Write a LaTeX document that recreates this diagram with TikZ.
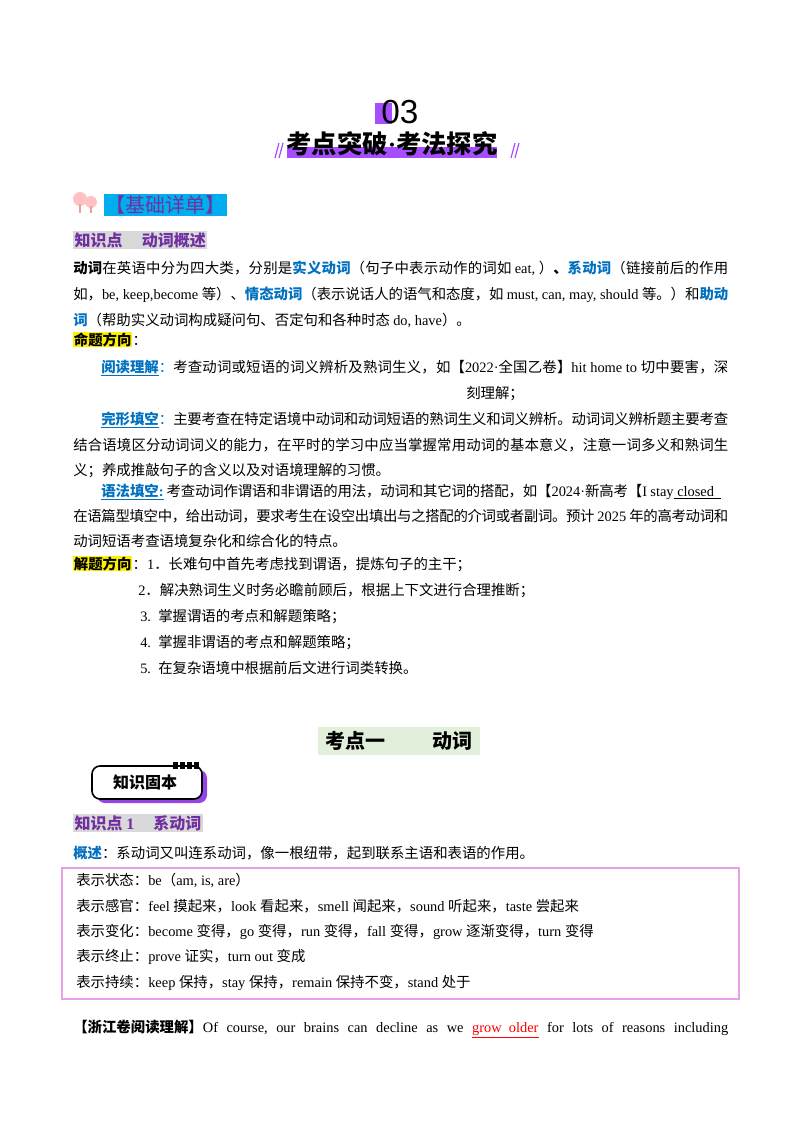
\documentclass[tikz,border=0pt]{standalone}
\usepackage{fontspec}
\setmainfont{Noto Sans CJK SC}
\newfontfamily\latin{Liberation Serif}
\newfontfamily\lsans{Liberation Sans}
\XeTeXinterchartokenstate=1
\newXeTeXintercharclass\Cc
\newcount\cc
\cc="2E80 \loop \XeTeXcharclass\cc=\Cc \advance\cc 1 \ifnum\cc<"A000 \repeat
\cc="FF00 \loop \XeTeXcharclass\cc=\Cc \advance\cc 1 \ifnum\cc<"FFF0 \repeat
\XeTeXinterchartoks 0 \Cc={\rmfamily}
\XeTeXinterchartoks 4095 \Cc={\rmfamily}
\XeTeXinterchartoks \Cc 0={\latin}
\XeTeXinterchartoks 4095 0={\latin}
\XeTeXinterchartoks \Cc \Cc={\hskip0pt plus 3pt minus 0.6pt}
\definecolor{blueL}{HTML}{0070C0}
\definecolor{purH}{HTML}{7030A0}
\definecolor{grayBG}{HTML}{D9D9D9}
\definecolor{pinkBox}{HTML}{E8A0E8}
\definecolor{greenBG}{HTML}{E2EFDA}
\definecolor{barP}{HTML}{A64DFF}
\newcommand\fs{\fontsize{10.8}{13}\selectfont}
\newcommand\J[2]{\hbox to #1{#2}}
\newcommand\bl[1]{{\bfseries\color{blueL}#1}}
\newcommand\ubl[1]{{\bfseries\color{blueL}\underline{#1}}}
\tikzset{T/.style={anchor=base west,inner sep=0pt,font=\fs}}
\begin{document}
\begin{tikzpicture}[x=0.75pt,y=-0.75pt]
\useasboundingbox (0,0) rectangle (800,1132);
% header
\fill[barP] (375,103) rectangle (392,124);
\node[inner sep=0] (n03) at (400,112) {\XeTeXinterchartokenstate=0 \lsans\fontsize{25}{25}\selectfont 03};
\fill[barP] (287,147) rectangle (497,158);
\node[inner sep=0,font=\bfseries\fontsize{19}{20}\selectfont] (ttl) at (392,144) {考点突破·考法探究};
\draw[barP,line width=0.9pt] (275,158)--(279,143) (279,158)--(283,143) (511,158)--(515,143) (515,158)--(519,143);
% tree icon
\fill[pink!80!red!60] (80,199) circle (7) (91,202) circle (6);
\draw[pink!60!brown,line width=0.8pt] (80,204)--(80,213) (91,206)--(91,213);
\node[inner sep=1pt,fill=cyan,text=purH,font=\fontsize{15}{16}\selectfont,anchor=west] (jc) at (104,205) {【基础详单】};
% section
\node[T,fill=grayBG,inner sep=1pt,text=purH,font=\bfseries\fontsize{12}{13}\selectfont] (k0) at (73,246) {知识点\hspace{1.2em}动词概述};
\node[T] (l1) at (73,273) {\J{491.25pt}{{\bfseries 动词}在英语中分为四大类，分别是\bl{实义动词}（句子中表示动作的词如 eat, ）{\bfseries 、}\bl{系动词}（链接前后的作用}};
\node[T] (l2) at (73,299) {\J{491.25pt}{如，be, keep,become 等）、\bl{情态动词}（表示说话人的语气和态度，如 must, can, may, should 等。）和\bl{助动}}};
\node[T] (l3) at (73,325) {\bl{词}（帮助实义动词构成疑问句、否定句和各种时态 do, have）。};
\node[T,fill=yellow,inner sep=0.5pt,font=\fs\bfseries] (mt) at (73,345) {命题方向};
\node[T] (mtc) at (mt.base east) {：};
\node[T] (r1) at (101,372) {\J{470.25pt}{\ubl{阅读理解}{\color{blueL}：}考查动词或短语的词义辨析及熟词生义，如【2022·全国乙卷】hit home to 切中要害，深}};
\node[T] (r2) at (466,398) {刻理解；};
\node[T] (w1) at (101,424) {\J{470.25pt}{\ubl{完形填空}{\color{blueL}：}主要考查在特定语境中动词和动词短语的熟词生义和词义辨析。动词词义辨析题主要考查}};
\node[T] (w2) at (73,450) {\J{491.25pt}{结合语境区分动词词义的能力，在平时的学习中应当掌握常用动词的基本意义，注意一词多义和熟词生}};
\node[T] (w3) at (73,475) {义；养成推敲句子的含义以及对语境理解的习惯。};
\node[T] (g1) at (101,496) {\J{465pt}{\ubl{语法填空:} 考查动词作谓语和非谓语的用法，动词和其它词的搭配，如【2024·新高考【I stay\underline{\ closed\ \ }}};
\node[T] (g2) at (73,521) {\J{491.25pt}{在语篇型填空中，给出动词，要求考生在设空出填出与之搭配的介词或者副词。预计 2025 年的高考动词和}};
\node[T] (g3) at (73,546) {动词短语考查语境复杂化和综合化的特点。};
\node[T,fill=yellow,inner sep=0.5pt,font=\fs\bfseries] (jt) at (73,569) {解题方向};
\node[T] (jt1) at (jt.base east) {：1．长难句中首先考虑找到谓语，提炼句子的主干；};
\node[T] (jt2) at (138,595) {2．解决熟词生义时务必瞻前顾后，根据上下文进行合理推断；};
\node[T] (jt3) at (140,621) {3.\ \ 掌握谓语的考点和解题策略；};
\node[T] (jt4) at (140,647) {4.\ \ 掌握非谓语的考点和解题策略；};
\node[T] (jt5) at (140,673) {5.\ \ 在复杂语境中根据前后文进行词类转换。};
% kaodian
\fill[greenBG] (318,727) rectangle (480,755);
\node[inner sep=0,font=\bfseries\fontsize{15}{16}\selectfont] (kd) at (399,741) {考点一\hspace{2.4em}动词};
% badge
\fill[barP!90!black,rounded corners=6pt] (97,770) rectangle (207,803);
\filldraw[fill=white,draw=black,line width=1.2pt,rounded corners=6pt] (92,766) rectangle (202,799);
\foreach \xx in {173,180,187,194} \fill (\xx,762) rectangle (\xx+5,769);
\node[inner sep=0,font=\bfseries\fontsize{12}{13}\selectfont] (kb) at (145,782) {知识固本};
\node[T,fill=grayBG,inner sep=1pt,text=purH,font=\bfseries\fontsize{12}{13}\selectfont] (k1) at (73,829) {知识点 1\hspace{1.2em}系动词};
\node[T] (gs) at (73,858) {\bl{概述}：系动词又叫连系动词，像一根纽带，起到联系主语和表语的作用。};
\draw[pinkBox,line width=1.6pt] (62,868) rectangle (739,999);
\node[T] (b1) at (76,885) {表示状态：be（am, is, are）};
\node[T] (b2) at (76,911) {表示感官：feel 摸起来，look 看起来，smell 闻起来，sound 听起来，taste 尝起来};
\node[T] (b3) at (76,936) {表示变化：become 变得，go 变得，run 变得，fall 变得，grow 逐渐变得，turn 变得};
\node[T] (b4) at (76,961) {表示终止：prove 证实，turn out 变成};
\node[T] (b5) at (76,987) {表示持续：keep 保持，stay 保持，remain 保持不变，stand 处于};
\node[T] (zj) at (73,1032) {\J{491.25pt}{{\bfseries 【浙江卷阅读理解】}Of\hfill course,\hfill our\hfill brains\hfill can\hfill decline\hfill as\hfill we\hfill {\color{red}\underline{grow\ \ older}}\hfill for\hfill lots\hfill of\hfill reasons\hfill including}};
\end{tikzpicture}
\end{document}
